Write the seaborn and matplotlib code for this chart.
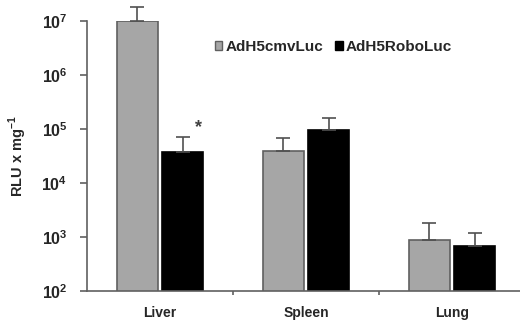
import numpy as np
import pandas as pd
import matplotlib
matplotlib.use("Agg")
import matplotlib.pyplot as plt
import seaborn as sns
from matplotlib.patches import Rectangle

tissues = ["Liver", "Spleen", "Lung"]
vectors = ["AdH5cmvLuc", "AdH5RoboLuc"]
cmv_rlu = [1.0e7, 3.9e4, 880]
robo_rlu = [3.75e4, 9.5e4, 680]
cmv_err = [0.8e7, 2.9e4, 940]
robo_err = [3.35e4, 6.5e4, 510]
ytick_exps = [2, 3, 4, 5, 6, 7]

df = pd.DataFrame({
    "tissue": tissues * 2,
    "vector": [vectors[0]] * 3 + [vectors[1]] * 3,
    "rlu": cmv_rlu + robo_rlu,
    "err": cmv_err + robo_err,
})

sns.set_style("white")
plt.rcParams["font.family"] = ["Liberation Sans", "DejaVu Sans"]
plt.rcParams["font.weight"] = "bold"
plt.rcParams["mathtext.fontset"] = "custom"
plt.rcParams["mathtext.rm"] = "Liberation Sans:bold"
plt.rcParams["mathtext.bf"] = "Liberation Sans:bold"

grey = "#a6a6a6"
fig = plt.figure(figsize=(5.2, 3.29), dpi=100)
ax = fig.add_axes([87 / 520, 38 / 329, 438 / 520, 270 / 329])

sns.barplot(data=df, x="tissue", y="rlu", hue="vector", order=tissues,
            hue_order=vectors, palette=[grey, "black"], width=0.62, gap=0.1,
            errorbar=None, legend=False, ax=ax, linewidth=1.2)

ax.set_yscale("log")
ax.set_ylim(1e2, 1e7)
ax.set_xlim(-0.5, 2.5)

# bar edges + error bars (upper only)
bars = ax.patches[:6]
errs = cmv_err + robo_err
vals = cmv_rlu + robo_rlu
for i, p in enumerate(bars):
    p.set_edgecolor("#606060" if i < 3 else "black")
    xc = p.get_x() + p.get_width() / 2
    ax.errorbar(xc, vals[i], yerr=[[0], [errs[i]]], fmt="none",
                ecolor="#505050", elinewidth=1.2, capsize=5, capthick=1.2,
                clip_on=False, zorder=1)

# significance star over Liver RoboLuc
p = bars[3]
ax.text(p.get_x() + p.get_width() - 0.03, 1.05e5, "*", fontsize=13,
        ha="center", va="center", color="#404040")

# axes styling
sns.despine(ax=ax)
for s in ["left", "bottom"]:
    ax.spines[s].set_color("#606060")
    ax.spines[s].set_linewidth(1.2)
ax.set_yticks([10.0 ** e for e in ytick_exps])
ax.set_yticklabels([r"$10^{%d}$" % e for e in ytick_exps], fontsize=11.5)
ax.yaxis.set_minor_locator(matplotlib.ticker.NullLocator())
ax.tick_params(axis="y", which="major", length=5, width=1.2, color="#606060",
               direction="out", left=True, pad=9)
ax.set_xticks(range(len(tissues)))
ax.set_xticklabels(tissues, fontsize=10)
ax.tick_params(axis="x", which="major", length=0, pad=11)
ax.set_xticks([0.5, 1.5], minor=True)
ax.tick_params(axis="x", which="minor", length=3, width=1.2, color="#606060",
               direction="out", bottom=True)
ax.set_xlabel("")
ax.set_ylabel(r"RLU x mg$^{-1}$", fontsize=10.5, fontweight="bold", labelpad=9)

handles = [Rectangle((0, 0), 1, 1, facecolor=grey, edgecolor="#606060"),
           Rectangle((0, 0), 1, 1, facecolor="black", edgecolor="black")]
ax.legend(handles, vectors, loc="center left", bbox_to_anchor=(0.26, 0.905),
          ncol=2, frameon=False, handlelength=0.5, handleheight=0.5,
          handletextpad=0.2, columnspacing=0.8,
          prop={"weight": "bold", "size": 11})

fig.savefig("out.png", dpi=100)
